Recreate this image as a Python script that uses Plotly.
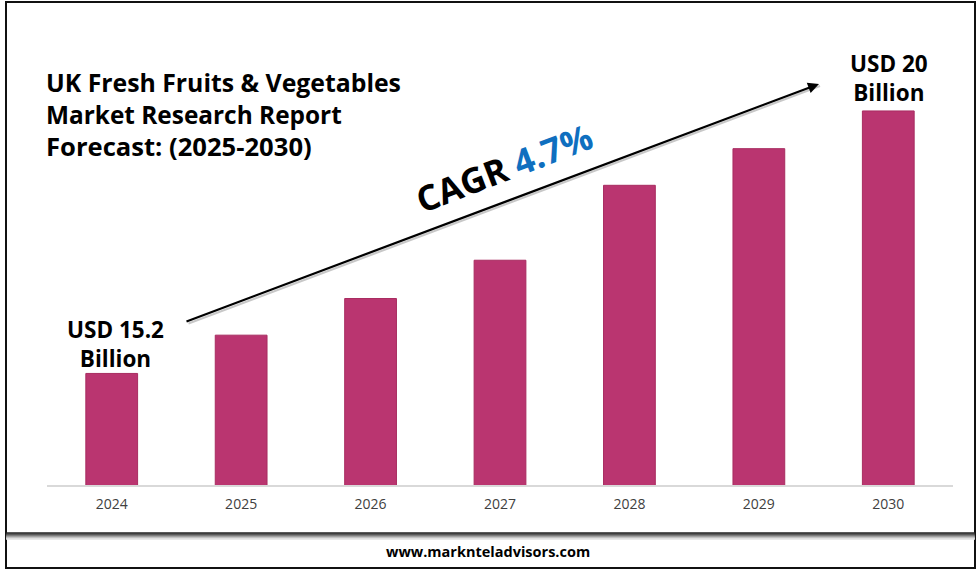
import plotly.graph_objects as go

W, H = 980, 570
L, R, T, B = 47, 953, 100, 485

years = ["2024", "2025", "2026", "2027", "2028", "2029", "2030"]
market_size = [15.2, 15.9, 16.57, 17.27, 18.64, 19.31, 20.0]

title_lines = ["UK Fresh Fruits &amp; Vegetables", "Market Research Report", "Forecast: (2025-2030)"]
FONT = "Open Sans"
BAR_COLOR = "#BA3570"


# paper coordinates are relative to the plot area
def px(x):
    return (x - L) / (R - L)


def py(y):
    return (B - y) / (B - T)


def label(text, x, y, size, color="#000000", bold=True, angle=0, anchor="center", family=FONT):
    if bold:
        text = "<b>" + text + "</b>"
    return dict(text=text, x=px(x), y=py(y), xref="paper", yref="paper", showarrow=False,
                xanchor=anchor, yanchor="middle", textangle=angle,
                font=dict(family=family, size=size, color=color))


fig = go.Figure(go.Bar(x=years, y=market_size, width=0.4, marker=dict(color=BAR_COLOR, line=dict(color="#A82C60", width=1))))

shapes = []
# outer frame
shapes.append(dict(type="rect", xref="paper", yref="paper", x0=px(6), x1=px(975), y0=py(2), y1=py(568),
                   line=dict(color="#111111", width=2), layer="below"))
# footer band, dark edge fading out downwards
greys = ["#222222", "#333333", "#555555", "#7a7a7a", "#a0a0a0", "#c4c4c4", "#e2e2e2"]
for i, g in enumerate(greys):
    shapes.append(dict(type="line", xref="paper", yref="paper", x0=px(6), x1=px(975), y0=py(533 + i), y1=py(533 + i),
                       line=dict(color=g, width=1.5)))

annotations = [
    label(title_lines[0], 44, 82, 24.8, anchor="left"),
    label(title_lines[1], 44, 114, 24.4, anchor="left"),
    label(title_lines[2], 44, 146, 25.6, anchor="left"),
    label("USD 15.2<br><b>Billion</b>", 115, 344, 22.5),
    label("USD 20<br><b>Billion</b>", 889, 78, 22.5),
    label("CAGR <span style='color:#0F6FBF'>4.7%</span>", 504, 167, 35, angle=-21),
    label("www.marknteladvisors.com", 488, 551, 14.5),
    # shadow of the arrow, then the arrow
    dict(x=px(820), y=py(86), ax=-633, ay=238, xref="paper", yref="paper", axref="pixel", ayref="pixel",
         text="", showarrow=True, arrowhead=0, arrowwidth=2.2, arrowcolor="#c8c8c8"),
    dict(x=px(819), y=py(84), ax=-634, ay=238, xref="paper", yref="paper", axref="pixel", ayref="pixel",
         text="", showarrow=True, arrowhead=2, arrowsize=1, arrowwidth=2.2, arrowcolor="#000000"),
]

fig.update_layout(
    width=W, height=H,
    margin=dict(l=L, r=W - R, t=T, b=H - B),
    paper_bgcolor="white", plot_bgcolor="white",
    showlegend=False,
    shapes=shapes,
    annotations=annotations,
    xaxis=dict(type="category", showline=True, linecolor="#D9D9D9", linewidth=2, ticks="", ticklabelstandoff=5,
               tickfont=dict(family=FONT, size=14, color="#404040"), showgrid=False, zeroline=False),
    yaxis=dict(visible=False, range=[13.16, 20.2], showgrid=False, zeroline=False),
)

fig.write_html("out.html", config=dict(displayModeBar=False),
               post_script="document.body.style.margin='0';document.body.style.overflow='hidden';")
